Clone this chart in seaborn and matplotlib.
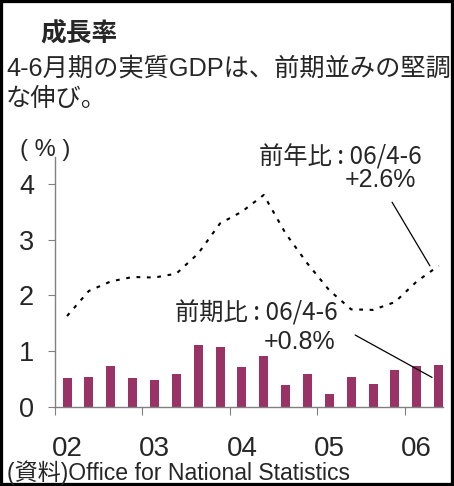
import numpy as np
import pandas as pd
import seaborn as sns
import matplotlib.pyplot as plt
from matplotlib.patches import Rectangle

# 四半期 (2002年1-3月期 ～ 2006年4-6月期)
quarters = [f"{y:02d}Q{q}" for y in range(2, 7) for q in range(1, 5)][:18]
# 前期比 (%)
qoq = [0.52, 0.54, 0.73, 0.52, 0.49, 0.59, 1.11, 1.07, 0.71,
       0.91, 0.39, 0.59, 0.23, 0.54, 0.41, 0.66, 0.73, 0.75]
# 前年比 (%)
yoy = [1.63, 2.08, 2.25, 2.33, 2.32, 2.39, 2.75, 3.29, 3.50,
       3.80, 3.11, 2.57, 2.09, 1.75, 1.74, 1.88, 2.25, 2.53]
year_labels = ["02", "03", "04", "05", "06"]

W, H = 454, 486
LATIN_JP = ["Liberation Sans", "Noto Sans CJK JP", "DejaVu Sans"]
JP = ["Noto Sans CJK JP", "Liberation Sans", "DejaVu Sans"]
BAR_COLOR = "#993366"
AXIS_GRAY = "#808080"


def main() -> None:
    df = pd.DataFrame({"quarter": quarters, "pos": np.arange(len(quarters)),
                       "qoq": qoq, "yoy": yoy})

    sns.set_theme(style="white")
    plt.rcParams["font.family"] = LATIN_JP

    fig = plt.figure(figsize=(W / 100, H / 100), dpi=100)
    ax = fig.add_axes([55 / W, (H - 407) / H, 388 / W, 250 / H])

    sns.barplot(data=df, x="pos", y="qoq", native_scale=True, width=0.41,
                color=BAR_COLOR, saturation=1, edgecolor="none", ax=ax)
    sns.lineplot(data=df, x="pos", y="yoy", color="black", linewidth=1.5,
                 linestyle=(0, (1.8, 3.2)), ax=ax)

    ax.set_xlim(-0.55, 17.2)
    ax.set_ylim(0, 4.48)
    ax.set_xlabel("")
    ax.set_ylabel("")

    # 軸・目盛
    for side in ["top", "right"]:
        ax.spines[side].set_visible(False)
    for side in ["left", "bottom"]:
        ax.spines[side].set_color(AXIS_GRAY)
        ax.spines[side].set_linewidth(1.0)

    ax.set_yticks([0, 1, 2, 3, 4])
    ax.set_yticklabels(["0", "1", "2", "3", "4"], fontsize=19.5)
    ax.tick_params(axis="y", direction="out", length=5, width=0.8,
                   color=AXIS_GRAY, pad=10, left=True)

    ax.set_xticks([-0.55 + 4 * k for k in range(5)])
    ax.set_xticklabels([])
    ax.set_xticks([4 * k for k in range(5)], labels=year_labels, minor=True)
    ax.tick_params(axis="x", which="major", direction="out", length=6,
                   width=0.8, color=AXIS_GRAY, bottom=True)
    ax.tick_params(axis="x", which="minor", length=0, pad=21, labelsize=20)

    # 注記
    ax.text(16.2, 4.48, "前年比 : 06/4-6", ha="right", va="center",
            fontsize=17.5, family=JP)
    ax.text(15.95, 4.06, "+2.6%", ha="right", va="center", fontsize=18)
    ax.annotate("", xy=(16.6, yoy[-1]), xytext=(14.87, 3.67),
                arrowprops=dict(arrowstyle="-", color="black", lw=0.9,
                                shrinkA=0, shrinkB=0))

    ax.text(12.4, 1.68, "前期比 : 06/4-6", ha="right", va="center",
            fontsize=17.5, family=JP)
    ax.text(12.27, 1.16, "+0.8%", ha="right", va="center", fontsize=18)
    ax.annotate("", xy=(16.7, qoq[-1] - 0.22), xytext=(13.18, 1.29),
                arrowprops=dict(arrowstyle="-", color="black", lw=0.9,
                                shrinkA=0, shrinkB=0))

    # タイトル類
    fig.text(40 / W, 1 - 33 / H, "成長率", fontsize=18.5, fontweight="bold",
             family=JP, va="center", ha="left")
    fig.text(6 / W, 1 - 69 / H, "4-6月期の実質GDPは、前期並みの堅調",
             fontsize=18.2, va="center", ha="left")
    fig.text(6 / W, 1 - 99 / H, "な伸び。", fontsize=18.2, family=JP,
             va="center", ha="left")
    fig.text(20 / W, 1 - 150 / H, "( % )", fontsize=17,
             va="center", ha="left")
    fig.text(7 / W, 1 - 473 / H, "(資料)Office for National Statistics",
             fontsize=16.6, va="center", ha="left")

    # 外枠
    fig.patches.append(Rectangle((0, 0), 1, 1, transform=fig.transFigure,
                                 fill=False, edgecolor="black", linewidth=4.5))

    fig.savefig("out.png", dpi=100)
    plt.close(fig)


if __name__ == "__main__":
    main()
